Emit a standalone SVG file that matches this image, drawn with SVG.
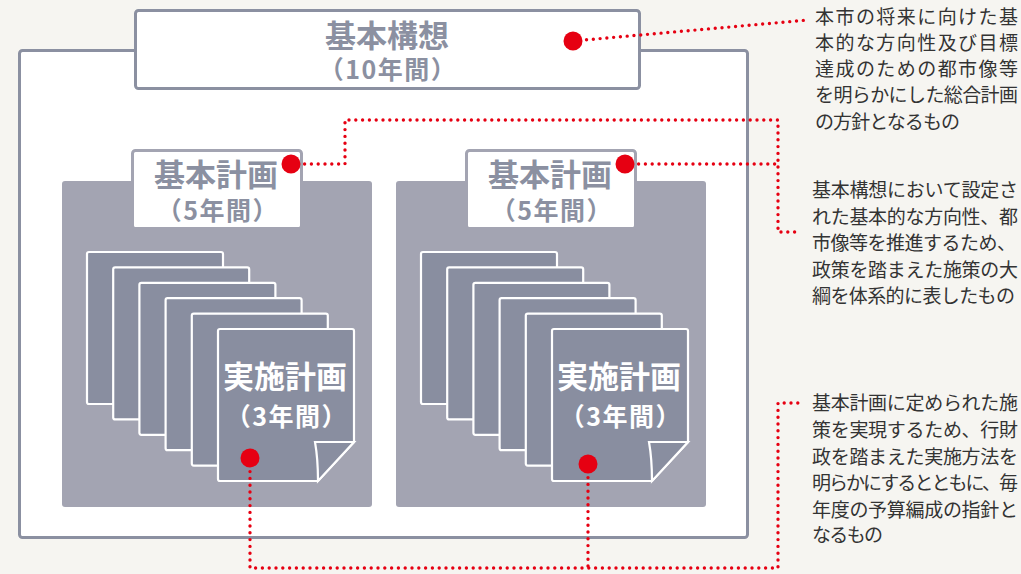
<svg xmlns="http://www.w3.org/2000/svg" xmlns:xlink="http://www.w3.org/1999/xlink" width="1021" height="574" viewBox="0 0 1021 574">
<defs>
<style>
.frame{fill:#fff;stroke:#8b90a1;stroke-width:3}
.panel{fill:#a3a4b2}
.lbl{fill:#fff;stroke:#a3a4b2;stroke-width:3}
.pg{fill:#898ea0;stroke:#fff;stroke-width:2.2}
.t{font-family:"Noto Sans CJK JP","Noto Sans",sans-serif;font-weight:bold;text-anchor:middle}
.g{fill:#8b90a1}
.w{fill:#fff}
.big{font-size:31px}
.sub{font-size:25px;letter-spacing:1.5px}
.desc{font-family:"Noto Sans CJK JP","Noto Sans",sans-serif;font-size:19px;fill:#333}
.dot{fill:#e60012}
.con{fill:none;stroke:#e60012;stroke-width:3.4;stroke-linecap:round;stroke-dasharray:0 6.8}
</style>
<rect id="pg" class="pg" width="136" height="152" rx="2"/>
<g id="front">
<path class="pg" d="M2,0H134a2,2 0 0 1 2,2V113L100,152H2a2,2 0 0 1 -2,-2V2a2,2 0 0 1 2,-2Z"/>
<path class="pg" d="M97,113H136L100,152Q100,130 97,113Z"/>
</g>
</defs>
<rect width="1021" height="574" fill="#f6f5f1"/>

<g id="outer">
<rect class="frame" x="19.5" y="50.5" width="728" height="487" rx="3"/>
</g>
<g id="kihonkoso">
<rect class="frame" x="135.5" y="10.5" width="504" height="78" rx="3"/>
<text class="t g"><tspan class="big" x="387" y="47">基本構想</tspan><tspan class="sub" x="388" y="79">（10年間）</tspan></text>
</g>

<g id="plan-left">
<rect class="panel" x="62" y="181" width="310" height="326" rx="3"/>
<rect class="lbl" x="132.5" y="150.5" width="169" height="78" rx="3"/>
<text class="t g"><tspan class="big" x="216" y="186">基本計画</tspan><tspan class="sub" x="218" y="220">（5年間）</tspan></text>
<g id="docs-left">
<use xlink:href="#pg" x="87" y="252"/>
<use xlink:href="#pg" x="113.2" y="267.4"/>
<use xlink:href="#pg" x="139.4" y="282.8"/>
<use xlink:href="#pg" x="165.6" y="298.2"/>
<use xlink:href="#pg" x="191.8" y="313.6"/>
<use xlink:href="#front" x="218" y="329"/>
<text class="t w"><tspan class="big" x="285" y="388">実施計画</tspan><tspan class="sub" x="287" y="426">（3年間）</tspan></text>
</g>
</g>

<g id="plan-right">
<rect class="panel" x="396" y="181" width="310" height="326" rx="3"/>
<rect class="lbl" x="466.5" y="150.5" width="169" height="78" rx="3"/>
<text class="t g"><tspan class="big" x="550" y="186">基本計画</tspan><tspan class="sub" x="552" y="220">（5年間）</tspan></text>
<g id="docs-right">
<use xlink:href="#pg" x="421" y="252"/>
<use xlink:href="#pg" x="447.2" y="267.4"/>
<use xlink:href="#pg" x="473.4" y="282.8"/>
<use xlink:href="#pg" x="499.6" y="298.2"/>
<use xlink:href="#pg" x="525.8" y="313.6"/>
<use xlink:href="#front" x="552" y="329"/>
<text class="t w"><tspan class="big" x="619" y="388">実施計画</tspan><tspan class="sub" x="621" y="426">（3年間）</tspan></text>
</g>
</g>

<g id="connectors">
<path class="con" d="M573,41L808,20"/>
<path class="con" d="M291,164H345V120H778V232H797"/>
<path class="con" d="M625,164H778"/>
<path class="con" d="M250,458V568H778V403H800"/>
<path class="con" d="M588,464V568"/>
<circle class="dot" cx="573" cy="41" r="9.5"/>
<circle class="dot" cx="291" cy="164" r="9.5"/>
<circle class="dot" cx="625" cy="164" r="9.5"/>
<circle class="dot" cx="250" cy="458" r="9.5"/>
<circle class="dot" cx="588" cy="464" r="9.5"/>
</g>

<g id="desc-koso">
<text class="desc" x="815" y="24" textLength="203" lengthAdjust="spacing">本市の将来に向けた基</text>
<text class="desc" x="815" y="50" textLength="203" lengthAdjust="spacing">本的な方向性及び目標</text>
<text class="desc" x="815" y="76" textLength="203" lengthAdjust="spacing">達成のための都市像等</text>
<text class="desc" x="815" y="102" textLength="203" lengthAdjust="spacing">を明らかにした総合計画</text>
<text class="desc" x="815" y="129" textLength="145" lengthAdjust="spacing">の方針となるもの</text>
</g>
<g id="desc-kihon">
<text class="desc" x="812" y="197" textLength="206" lengthAdjust="spacing">基本構想において設定さ</text>
<text class="desc" x="812" y="224" textLength="206" lengthAdjust="spacing">れた基本的な方向性、都</text>
<text class="desc" x="812" y="250" textLength="204" lengthAdjust="spacing">市像等を推進するため、</text>
<text class="desc" x="812" y="277" textLength="206" lengthAdjust="spacing">政策を踏まえた施策の大</text>
<text class="desc" x="812" y="303" textLength="203" lengthAdjust="spacing">綱を体系的に表したもの</text>
</g>
<g id="desc-jisshi">
<text class="desc" x="812" y="410" textLength="206" lengthAdjust="spacing">基本計画に定められた施</text>
<text class="desc" x="812" y="437" textLength="206" lengthAdjust="spacing">策を実現するため、行財</text>
<text class="desc" x="812" y="464" textLength="206" lengthAdjust="spacing">政を踏まえた実施方法を</text>
<text class="desc" x="812" y="490" textLength="206" lengthAdjust="spacing">明らかにするとともに、毎</text>
<text class="desc" x="812" y="517" textLength="206" lengthAdjust="spacing">年度の予算編成の指針と</text>
<text class="desc" x="812" y="542" textLength="71" lengthAdjust="spacing">なるもの</text>
</g>
</svg>
